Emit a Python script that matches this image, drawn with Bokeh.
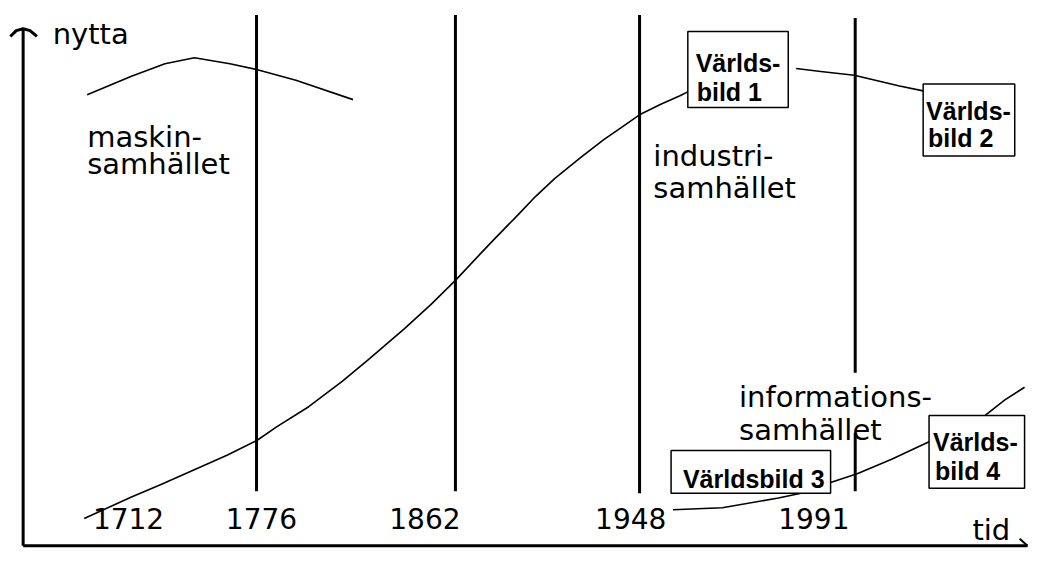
from bokeh.plotting import figure
from bokeh.models import Range1d
from bokeh.core.properties import value
from bokeh.embed import file_html
from bokeh.resources import INLINE

# ---- data (diagram units = positions) ----
years = ["1712", "1776", "1862", "1948", "1991"]
year_label_x = [130, 265, 431, 640, 826]
year_label_y = [533, 533, 533, 533, 533]

# vertical epoch lines (1776, 1862, 1948, 1991 upper / lower part)
epoch_x = [260, 462, 649, 868, 868]
epoch_top = [15, 15, 15, 18, 445]
epoch_bottom = [505, 505, 507, 383, 505]

# curve: maskinsamhället
mask_x = [88, 133, 167, 197, 233, 260, 300, 358]
mask_y = [97, 78, 65, 59, 65, 71, 82, 102]

# curve: industrisamhället (S-curve up to Världsbild 1)
ind_x = [85, 133, 163, 230, 260, 280, 313, 347, 373, 410, 437, 462, 487, 502,
         527, 543, 563, 590, 613, 630, 650, 670, 690, 700]
ind_y = [533, 511, 498, 468, 453, 439, 418, 392, 370, 338, 313, 288, 261, 245,
         219, 202, 183, 161, 143, 131, 117, 107, 98, 93]

# curve: Världsbild 1 -> Världsbild 2
top_x = [808, 833, 867, 913, 937]
top_y = [70, 73, 77, 88, 93]

# curve: informationssamhället
inf1_x = [683, 733, 790, 813]
inf1_y = [524, 522, 512, 507]
inf2_x = [843, 870, 905, 943]
inf2_y = [496, 487, 472, 454]
inf3_x = [1000, 1020, 1040]
inf3_y = [427, 411, 398]

# boxes
box_left = [698, 937, 681, 943]
box_right = [800, 1030, 843, 1040]
box_top = [32, 86, 463, 427]
box_bottom = [110, 160, 507, 502]
box_text = ["Världs-", "bild 1", "Världs-", "bild 2", "Världsbild 3", "Världs-", "bild 4"]
box_text_x = [706, 707, 940, 942, 693, 947, 949]
box_text_y = [64, 94, 114, 142, 492, 454, 484]

# era labels
era_text = ["nytta", "maskin-", "samhället", "industri-", "samhället",
            "informations-", "samhället", "tid"]
era_text_x = [53, 88, 88, 663, 663, 750, 750, 987]
era_text_y = [34, 140, 168, 160, 193, 408, 442, 545]

# axes (y axis with arrow, x axis with hook)
yaxis_x = [23, 23]
yaxis_y = [561, 29]
yarrow_x = [10, 16, 23, 30, 37]
yarrow_y = [37, 31, 29, 31, 37]
xaxis_x = [23, 1043]
xaxis_y = [561, 561]
xarrow_x = [1035, 1043]
xarrow_y = [554, 561]

p = figure(width=1029, height=551, x_range=Range1d(0, 1045), y_range=Range1d(567, 0),
           output_backend="svg", toolbar_location=None, min_border=0,
           x_axis_type=None, y_axis_type=None)
p.grid.visible = False
p.outline_line_color = None
p.background_fill_color = "white"

# axes
p.line(yaxis_x, yaxis_y, line_color="black", line_width=3)
p.line(yarrow_x, yarrow_y, line_color="black", line_width=3, line_join="round")
p.line(xaxis_x, xaxis_y, line_color="black", line_width=3)
p.line(xarrow_x, xarrow_y, line_color="black", line_width=2)

# epoch lines
p.segment(x0=epoch_x, y0=epoch_top, x1=epoch_x, y1=epoch_bottom,
          line_color="black", line_width=3)

# curves
for cx, cy in [(mask_x, mask_y), (ind_x, ind_y), (top_x, top_y),
               (inf1_x, inf1_y), (inf2_x, inf2_y), (inf3_x, inf3_y)]:
    p.line(cx, cy, line_color="black", line_width=1.6, line_join="round")

# boxes
p.quad(left=box_left, right=box_right, top=box_top, bottom=box_bottom,
       fill_color="white", line_color="black", line_width=1.5)

p.text(x=box_text_x, y=box_text_y, text=box_text, text_color="black",
       text_font=value("Liberation Sans"), text_font_style="bold",
       text_font_size="25px", text_baseline="alphabetic", text_align="left")

p.text(x=era_text_x, y=era_text_y, text=era_text, text_color="black",
       text_font=value("DejaVu Sans"), text_font_size="29px",
       text_baseline="alphabetic", text_align="left")

p.text(x=year_label_x, y=year_label_y, text=years, text_color="black",
       text_font=value("DejaVu Sans"), text_font_size="28px",
       text_baseline="alphabetic", text_align="center")

open("out.html", "w").write(file_html(p, INLINE))
